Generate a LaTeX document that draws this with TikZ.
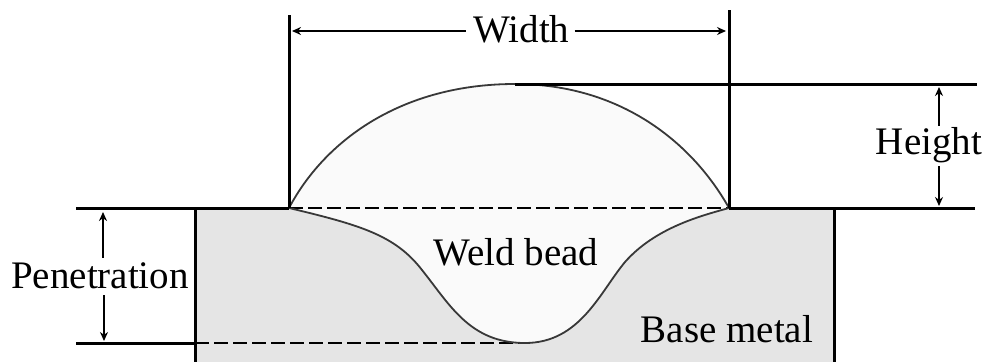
\documentclass[tikz,border=0pt]{standalone}
\usepackage{fontspec}
\setmainfont{Liberation Serif}
\usetikzlibrary{arrows.meta}
\tikzset{
  lbl/.style={inner sep=0pt,anchor=base,font=\fontsize{39}{39}\selectfont,text=black},
  thick line/.style={line width=3pt,black},
  outline/.style={line width=1.8pt,draw=black!78},
  dimup/.style={line width=2.4pt,black,{Stealth[length=9pt,width=8pt]}-},
  dimdown/.style={line width=2.4pt,black,-{Stealth[length=9pt,width=8pt]}},
  dash line/.style={line width=2.6pt,black,dash pattern=on 14pt off 5pt},
}
\begin{document}
\begin{tikzpicture}[x=1pt,y=-1pt]
\useasboundingbox (0,0) rectangle (987,362);
% base metal
\fill[black!10] (195,208) rectangle (834,362);
% bead
\path[fill=black!2] (289,208)
  .. controls (325,140) and (402,84) .. (515,84)
  .. controls (620,84) and (692,142) .. (729,208)
  .. controls (700,216) and (655,228) .. (625,262)
  .. controls (600,292) and (580,343) .. (525,343)
  .. controls (470,343) and (450,305) .. (422,270)
  .. controls (395,235) and (360,225) .. (289,208) -- cycle;
% coordinates
\coordinate (tl) at (76,208);
\coordinate (tlb) at (289,208);
\coordinate (trb) at (729,208);
\coordinate (tr) at (975,208);
\coordinate (wl) at (289,15);
\coordinate (wr) at (729,10);
\coordinate (hl) at (515,84);
\coordinate (hr) at (977,84);
\coordinate (bl) at (76,343);
\coordinate (bm) at (195,343);
\coordinate (bd) at (525,343);
\coordinate (rtl) at (195,208);
\coordinate (rbl) at (195,362);
\coordinate (rtr) at (834,208);
\coordinate (rbr) at (834,362);
% lines
\draw[dash line] (tlb) -- (trb);
\draw[dash line] (bm) -- (bd);
\draw[outline] (tlb)
  .. controls (325,140) and (402,84) .. (hl)
  .. controls (620,84) and (692,142) .. (trb);
\draw[outline] (trb)
  .. controls (700,216) and (655,228) .. (625,262)
  .. controls (600,292) and (580,343) .. (bd)
  .. controls (470,343) and (450,305) .. (422,270)
  .. controls (395,235) and (360,225) .. (tlb);
\draw[thick line] (tl) -- (tlb);
\draw[thick line] (trb) -- (tr);
\draw[thick line] (wl) -- (tlb);
\draw[thick line] (wr) -- (trb);
\draw[thick line] (hl) -- (hr);
\draw[thick line] (bl) -- (bm);
\draw[thick line] (rtl) -- (rbl);
\draw[thick line] (rtr) -- (rbr);
% labels
\node[lbl] (width) at (521.5,42) {Width};
\node[lbl] (height) at (929,154) {Height};
\node[lbl] (pen) at (100,288) {Penetration};
\node[lbl] (weld) at (516,265) {Weld bead};
\node[lbl] (base) at (727,342) {Base metal};
% arrow ends
\coordinate (wal) at (292,31);
\coordinate (war) at (726,31);
\coordinate (hat) at (939,87);
\coordinate (hab) at (939,206);
\coordinate (pat) at (103,212);
\coordinate (pab) at (104,341);
\draw[dimup] (wal) -- ([xshift=-7pt]width.west |- wal);
\draw[dimdown] ([xshift=5pt]width.east |- war) -- (war);
\draw[dimup] (hat) -- (939,126);
\draw[dimdown] (939,166) -- (hab);
\draw[dimup] (pat) -- (103,258);
\draw[dimdown] (104,295) -- (pab);
\end{tikzpicture}
\end{document}
